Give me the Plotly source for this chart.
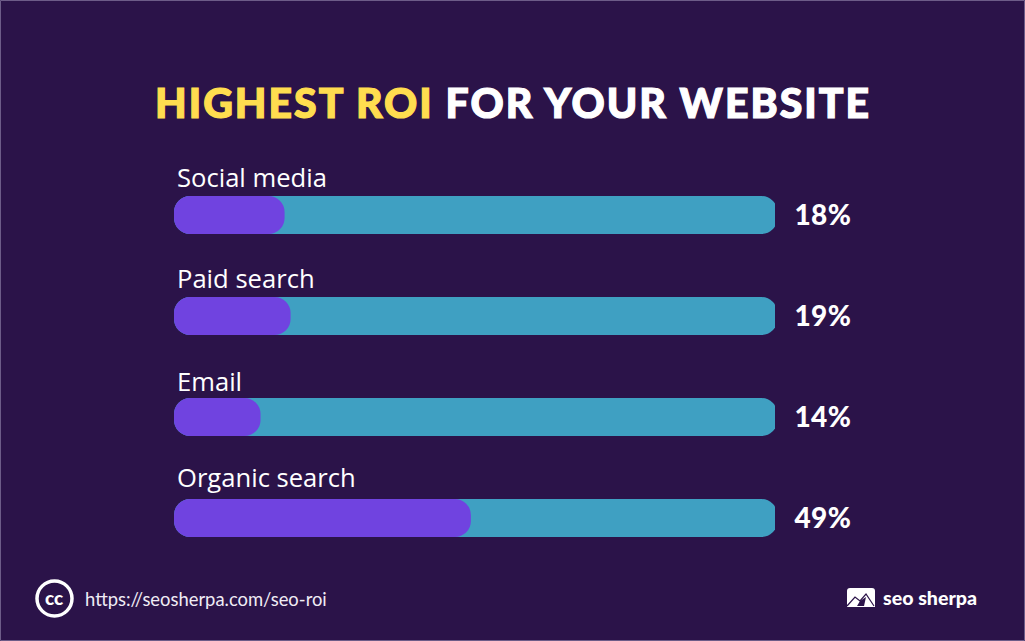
import plotly.graph_objects as go

categories = ["Social media", "Paid search", "Email", "Organic search"]
values = [18, 19, 14, 49]
track_end = [100, 100, 100, 100]
title_highlight = "HIGHEST ROI"
title_rest = "FOR YOUR WEBSITE"
source_url = "https://seosherpa.com/seo-roi"
brand = "seo sherpa"

W, H = 1025, 641
BG = "#2b1349"
TEAL = "#3fa0c2"
PURPLE = "#7043e0"
YELLOW = "#ffdd4f"
EDGE = "#6d5c88"
BASE = -0.4
label_shift = [38, 38, 36, 41]


def px(x):
    return x / W


def py(y):
    return 1 - y / H


fig = go.Figure()
fig.add_trace(go.Bar(
    y=categories, x=[v - BASE for v in track_end], base=BASE, orientation="h",
    marker=dict(color=TEAL, cornerradius=16, line_width=0), width=0.376,
    hoverinfo="skip", showlegend=False,
))
fig.add_trace(go.Bar(
    y=categories, x=[v - BASE for v in values], base=BASE, orientation="h",
    marker=dict(color=PURPLE, cornerradius=16, line_width=0), width=0.376,
    hoverinfo="skip", showlegend=False,
))

annotations = [
    dict(
        text=f'<span style="color:{YELLOW}">{title_highlight}</span> {title_rest}',
        xref="paper", yref="paper", x=px(512.5), y=py(102), xanchor="center", yanchor="middle",
        showarrow=False, font=dict(family="Lato", size=41, color="white", weight=900),
    ),
    dict(
        text=source_url, xref="paper", yref="paper", x=px(83), y=py(599),
        xanchor="left", yanchor="middle", showarrow=False,
        font=dict(family="Lato", size=18.4, color="#f0ecf5"),
    ),
    dict(
        text="cc", xref="paper", yref="paper", x=px(54), y=py(597),
        xanchor="center", yanchor="middle", showarrow=False,
        font=dict(family="Lato", size=19, color="white", weight=900),
    ),
    dict(
        text=brand, xref="paper", yref="paper", x=px(881), y=py(597),
        xanchor="left", yanchor="middle", showarrow=False,
        font=dict(family="Lato", size=19.6, color="white", weight=900),
    ),
]
for cat, v, shift in zip(categories, values, label_shift):
    annotations.append(dict(
        text=cat, xref="paper", yref="y", x=px(175), y=cat, yshift=shift,
        xanchor="left", yanchor="middle", showarrow=False,
        font=dict(family="Open Sans", size=25.6, color="white"),
    ))
    annotations.append(dict(
        text=f"{v}%", xref="paper", yref="y", x=px(793), y=cat, yshift=1,
        xanchor="left", yanchor="middle", showarrow=False,
        font=dict(family="Lato", size=28, color="white", weight=900),
    ))

shapes = [
    dict(type="rect", xref="paper", yref="paper", x0=px(0.5), x1=px(1024.5), y0=py(640.5), y1=py(0.5),
         line=dict(color=EDGE, width=1)),
    dict(type="circle", xref="paper", yref="paper", x0=px(37), x1=px(72), y0=py(616), y1=py(581),
         line=dict(color="white", width=3.5)),
    dict(type="path", xref="paper", yref="paper",
         path=f"M {px(850)} {py(588)} L {px(872)} {py(588)} Q {px(875)} {py(588)} {px(875)} {py(591)} "
              f"L {px(875)} {py(607)} L {px(847)} {py(607)} L {px(847)} {py(591)} "
              f"Q {px(847)} {py(588)} {px(850)} {py(588)} Z",
         fillcolor="white", line_width=0),
    dict(type="path", xref="paper", yref="paper",
         path=f"M {px(847)} {py(606)} L {px(855)} {py(597)} L {px(860)} {py(601)} "
              f"L {px(866)} {py(594)} L {px(874)} {py(606)}",
         line=dict(color=BG, width=1.2)),
    dict(type="path", xref="paper", yref="paper",
         path=f"M {px(857)} {py(606)} L {px(860)} {py(601)} L {px(866)} {py(597)} L {px(864)} {py(606)} Z",
         fillcolor=BG, line_width=0),
]

fig.update_layout(
    width=W, height=H, margin=dict(l=0, r=0, t=0, b=0),
    paper_bgcolor=BG, plot_bgcolor=BG, barmode="overlay",
    xaxis=dict(domain=[px(174), px(775)], range=[BASE, 100 + BASE], visible=False, fixedrange=True),
    yaxis=dict(domain=[py(568.5), py(164.5)], range=[3.5, -0.5], type="category",
               categoryorder="array", categoryarray=categories, visible=False, fixedrange=True),
    annotations=annotations, shapes=shapes,
)

spacing_js = """
document.body.style.margin='0';
document.documentElement.style.overflow='hidden';
document.querySelectorAll('.annotation-text').forEach(function(t){
  var s = t.textContent;
  if (s.indexOf('HIGHEST') === 0) {
    t.style.letterSpacing = '2px';
    t.style.stroke = '#ffffff';
    t.style.strokeWidth = '1.2px';
    t.querySelectorAll('tspan').forEach(function(p){
      if (p.textContent.indexOf('HIGHEST') === 0) { p.style.stroke = p.style.fill; }
    });
  }
  if (s.indexOf('%') > 0) { t.style.letterSpacing = '0.3px'; }
});
"""
fig.write_html("out.html", config=dict(displayModeBar=False), post_script=spacing_js)
